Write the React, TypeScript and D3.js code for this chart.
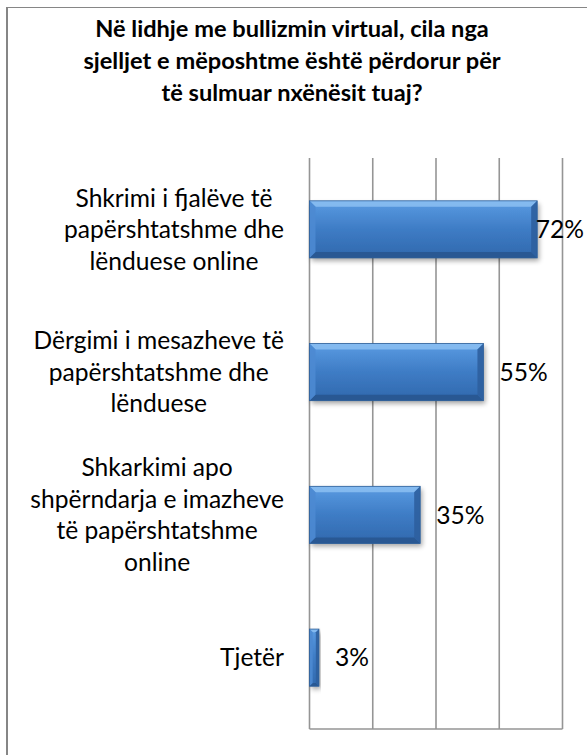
import React from "react";
import * as d3 from "d3";

const titleLines = [
  "Në lidhje me bullizmin virtual, cila nga",
  "sjelljet e mëposhtme është përdorur për",
  "të sulmuar nxënësit  tuaj?",
];
const categories = [
  "Shkrimi i fjalëve të papërshtatshme dhe lënduese online",
  "Dërgimi i mesazheve të papërshtatshme dhe lënduese",
  "Shkarkimi apo shpërndarja e imazheve të papërshtatshme online",
  "Tjetër",
];
const categoryLines = [
  ["Shkrimi i fjalëve të", "papërshtatshme dhe", "lënduese online"],
  ["Dërgimi i mesazheve të", "papërshtatshme dhe", "lënduese"],
  ["Shkarkimi apo", "shpërndarja e imazheve", "të papërshtatshme", "online"],
  ["Tjetër"],
];
const values = [0.72, 0.55, 0.35, 0.03];
const xTicks = [0, 0.2, 0.4, 0.6, 0.8];

const W = 587;
const H = 755;
const FONT = "Lato, Carlito, Calibri, sans-serif";

let ctx: CanvasRenderingContext2D | null = null;
function measure(text: string, size: number, weight = "normal"): number {
  if (!ctx && typeof document !== "undefined") {
    ctx = document.createElement("canvas").getContext("2d");
  }
  if (!ctx) return text.length * size * 0.5;
  ctx.font = `${weight} ${size}px Lato, sans-serif`;
  return ctx.measureText(text).width;
}

export default function App() {
  const plotLeft = 309.5;
  const plotRight = 562.5;
  const plotTop = 158;
  const plotBottom = 729;
  const x = d3.scaleLinear().domain([0, 0.8]).range([plotLeft, plotRight]);
  const y = d3
    .scaleBand<string>()
    .domain(categories)
    .range([plotTop, plotBottom])
    .paddingInner(0.6)
    .paddingOuter(0.3);

  const fs = 24.6;
  const lineH = 31.5;
  const labelRight = 284;
  const pct = d3.format(".0%");

  return (
    <div style={{ position: "absolute", left: 0, top: 0 }}>
      <svg width={W} height={H} style={{ display: "block" }}>
        <defs>
          <linearGradient id="barGrad" x1="0" y1="0" x2="0" y2="1">
            <stop offset="0" stopColor="#5a9be2" />
            <stop offset="0.5" stopColor="#3e7cc5" />
            <stop offset="1" stopColor="#3068ad" />
          </linearGradient>
          <filter id="shadow" x="-20%" y="-30%" width="140%" height="170%">
            <feGaussianBlur in="SourceAlpha" stdDeviation="2.5" />
            <feOffset dx="2" dy="3" result="b" />
            <feComponentTransfer>
              <feFuncA type="linear" slope="0.35" />
            </feComponentTransfer>
            <feMerge>
              <feMergeNode />
              <feMergeNode in="SourceGraphic" />
            </feMerge>
          </filter>
        </defs>
        <rect x={0} y={0} width={W} height={H} fill="#ffffff" />
        {/* chart border */}
        <rect x={7.5} y={7.5} width={W + 20} height={H + 20} fill="none" stroke="#868686" strokeWidth={1} />
        <line x1={7} x2={7} y1={7} y2={H} stroke="#868686" strokeWidth={2} />

        {/* title */}
        {titleLines.map((t, i) => (
          <text
            key={i}
            x={292}
            y={37 + i * 32}
            textAnchor="middle"
            fontFamily={FONT}
            fontWeight="bold"
            fontSize={23.6}
            fill="#000"
          >
            {t}
          </text>
        ))}

        {/* gridlines */}
        {xTicks.map((t) => (
          <line
            key={t}
            x1={x(t)}
            x2={x(t)}
            y1={plotTop}
            y2={plotBottom}
            stroke="#959595"
            strokeWidth={1.6}
          />
        ))}
        <line x1={plotLeft} x2={plotRight} y1={plotBottom} y2={plotBottom} stroke="#959595" strokeWidth={1.6} />

        {/* bars */}
        {categories.map((c, i) => {
          const x0 = x(0);
          const x1 = x(values[i]);
          const y0 = y(c)!;
          const h = y.bandwidth();
          const y1 = y0 + h;
          const w = x1 - x0;
          const b = Math.min(6, w / 3);
          const p = (pts: number[][]) => pts.map((q) => q.join(",")).join(" ");
          return (
            <g key={c}>
              <rect x={x0} y={y0} width={w} height={h} fill="url(#barGrad)" filter="url(#shadow)" />
              <polygon points={p([[x0, y0], [x1, y0], [x1 - b, y0 + b], [x0 + b, y0 + b]])} fill="#8cc0f2" opacity={0.85} />
              <polygon points={p([[x0, y1], [x1, y1], [x1 - b, y1 - b], [x0 + b, y1 - b]])} fill="#285690" opacity={0.9} />
              <polygon points={p([[x0, y0], [x0 + b, y0 + b], [x0 + b, y1 - b], [x0, y1]])} fill="#4d8ad2" opacity={0.9} />
              <polygon points={p([[x1, y0], [x1 - b, y0 + b], [x1 - b, y1 - b], [x1, y1]])} fill="#2d5f9e" opacity={0.9} />
              <rect x={x0} y={y0} width={w} height={h} fill="none" stroke="#2f5f98" strokeWidth={0.8} />
            </g>
          );
        })}

        {/* data labels */}
        {categories.map((c, i) => {
          const cy = y(c)! + y.bandwidth() / 2;
          const txt = pct(values[i]);
          const tw = measure(txt, fs);
          const lx = Math.min(x(values[i]) + 16, W - 3 - tw);
          return (
            <text key={c} x={lx} y={cy + fs * 0.36} fontFamily={FONT} fontSize={fs} fill="#000">
              {txt}
            </text>
          );
        })}

        {/* category labels */}
        {categories.map((c, i) => {
          const lines = categoryLines[i];
          const cy = y(c)! + y.bandwidth() / 2;
          const blockW = d3.max(lines, (l) => measure(l, fs)) || 0;
          const cx = labelRight - blockW / 2;
          return (
            <text key={c} fontFamily={FONT} fontSize={fs} fill="#000" textAnchor="middle">
              {lines.map((l, j) => (
                <tspan key={j} x={cx} y={cy + (j - (lines.length - 1) / 2) * lineH + fs * 0.36}>
                  {l}
                </tspan>
              ))}
            </text>
          );
        })}
      </svg>
    </div>
  );
}
